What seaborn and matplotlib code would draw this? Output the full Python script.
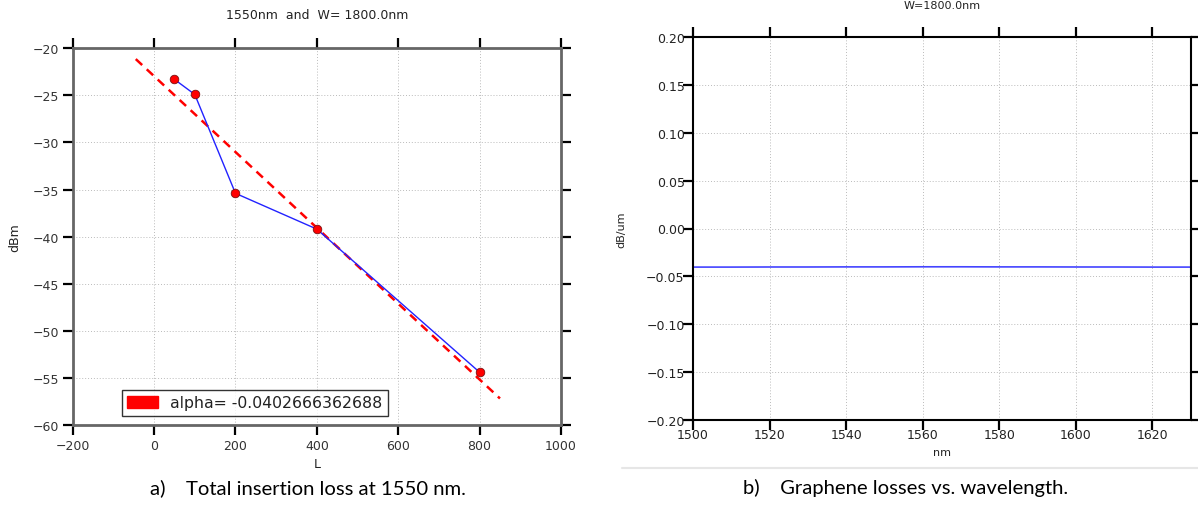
import numpy as np
import pandas as pd
import matplotlib
matplotlib.use("Agg")
import matplotlib.pyplot as plt
import matplotlib.patches as mpatches
import matplotlib.lines as mlines
import matplotlib.ticker as mticker
import seaborn as sns

# ---------------- data ----------------
length_um = [50, 100, 200, 400, 800]
loss_dbm = [-23.3, -24.9, -35.4, -39.2, -54.4]
alpha = -0.0402666362688
fit_x = [-45, 850]

wavelength_nm = [1500, 1510, 1520, 1530, 1540, 1550, 1560, 1570, 1580, 1590, 1600, 1610, 1620, 1630]
graphene_loss = [-0.0403, -0.0403, -0.0402, -0.0402, -0.0401, -0.0401, -0.0400,
                 -0.0400, -0.0401, -0.0401, -0.0402, -0.0402, -0.0403, -0.0403]

x_ticks_a = [-200, 0, 200, 400, 600, 800, 1000]
y_ticks_a = [-60, -55, -50, -45, -40, -35, -30, -25, -20]
x_ticks_b = [1500, 1520, 1540, 1560, 1580, 1600, 1620]
y_ticks_b = [-0.20, -0.15, -0.10, -0.05, 0.00, 0.05, 0.10, 0.15, 0.20]

title_a = "1550nm  and  W= 1800.0nm"
title_b = "W=1800.0nm"
caption_a = "a)    Total insertion loss at 1550 nm."
caption_b = "b)    Graphene losses vs. wavelength."

# ---------------- style ----------------
sns.set_theme(style="white")
plt.rcParams["font.family"] = ["DejaVu Sans"]
plt.rcParams["axes.unicode_minus"] = True

W, H = 1198, 506
fig = plt.figure(figsize=(W / 100, H / 100), dpi=100)
fig.patch.set_facecolor("white")

ax1 = fig.add_axes([72.7 / W, 1 - 426 / H, (561 - 72.7) / W, (426 - 49.3) / H])
ax2 = fig.add_axes([693 / W, 1 - 421 / H, (1190.5 - 693) / W, (421 - 38) / H])

# ---- left panel ----
df1 = pd.DataFrame({"L": length_um, "dBm": loss_dbm})
intercept = np.mean(loss_dbm) - alpha * np.mean(length_um)
df_fit = pd.DataFrame({"L": fit_x, "dBm": [intercept + alpha * x for x in fit_x]})

sns.lineplot(data=df_fit, x="L", y="dBm", ax=ax1, color="red", lw=1.8,
             linestyle=(0, (3.5, 2.5)), zorder=3)
sns.lineplot(data=df1, x="L", y="dBm", ax=ax1, color="#2222ff", lw=1.0, zorder=4)
sns.scatterplot(data=df1, x="L", y="dBm", ax=ax1, color="red", s=38,
                edgecolor="#7a1010", linewidth=0.6, zorder=5)

ax1.set_xlim(-200, 1000)
ax1.set_ylim(-60, -20)
ax1.set_xticks(x_ticks_a)
ax1.set_yticks(y_ticks_a)
ax1.set_xlabel("L", fontsize=9, color="#222222", labelpad=4)
ax1.set_ylabel("dBm", fontsize=9, color="#222222", labelpad=8)
ax1.set_title(title_a, fontsize=9, color="#222222", pad=22)
for s in ax1.spines.values():
    s.set_color("#666666")
    s.set_linewidth(2.0)
ax1.tick_params(axis="both", which="major", direction="out", length=7, width=1.6,
                color="black", labelsize=9, labelcolor="#333333", pad=3,
                top=True, right=True, bottom=True, left=True,
                labeltop=False, labelright=False)
ax1.grid(True, linestyle=(0, (1, 2)), color="#bbbbbb", lw=0.7)

handle = mpatches.Patch(facecolor="red", edgecolor="red")
leg = ax1.legend([handle], [f"alpha= {alpha}"], loc="lower left",
                 bbox_to_anchor=(0.1, 0.024), fontsize=11.3, frameon=True,
                 fancybox=False, shadow=False, handlelength=2.0, handleheight=0.75,
                 borderpad=0.35, handletextpad=0.75, borderaxespad=0)
leg.get_frame().set_edgecolor("black")
leg.get_frame().set_linewidth(1.0)
for t in leg.get_texts():
    t.set_color("#222222")

# ---- right panel ----
df2 = pd.DataFrame({"nm": wavelength_nm, "dB/um": graphene_loss})
sns.lineplot(data=df2, x="nm", y="dB/um", ax=ax2, color="#4444ff", lw=1.2)
ax2.set_xlim(1500, 1630)
ax2.set_ylim(-0.2, 0.2)
ax2.set_xticks(x_ticks_b)
ax2.set_yticks(y_ticks_b)


def fmt(v, pos):
    s = f"{v:.2f}"
    if s == "-0.00":
        s = "0.00"
    return s.replace("-", "\u2212")


ax2.yaxis.set_major_formatter(mticker.FuncFormatter(fmt))
ax2.set_xlabel("nm", fontsize=8, color="#222222", labelpad=4)
ax2.set_ylabel("dB/um", fontsize=8, color="#222222", labelpad=14)
ax2.set_title(title_b, fontsize=8, color="#222222", pad=21)
for s in ax2.spines.values():
    s.set_color("black")
    s.set_linewidth(1.5)
ax2.tick_params(axis="both", which="major", direction="out", length=7, width=1.6,
                color="black", labelsize=9, labelcolor="#222222", pad=-1,
                top=True, right=True, bottom=True, left=True,
                labeltop=False, labelright=False)
ax2.grid(True, linestyle=(0, (1, 2)), color="#bbbbbb", lw=0.7)

# ---- captions ----
fig.text(308 / W, 1 - 488 / H, caption_a, ha="center", va="center",
         fontsize=14.6, family=["Lato", "DejaVu Sans"], color="black")
fig.text(906 / W, 1 - 488 / H, caption_b, ha="center", va="center",
         fontsize=14.6, family=["Lato", "DejaVu Sans"], color="black")
fig.add_artist(mlines.Line2D([622 / W, 1.0], [1 - 469 / H, 1 - 469 / H],
                             transform=fig.transFigure, color="#e6e6e6", lw=1.5))

fig.savefig("out.png", dpi=100, facecolor="white")
